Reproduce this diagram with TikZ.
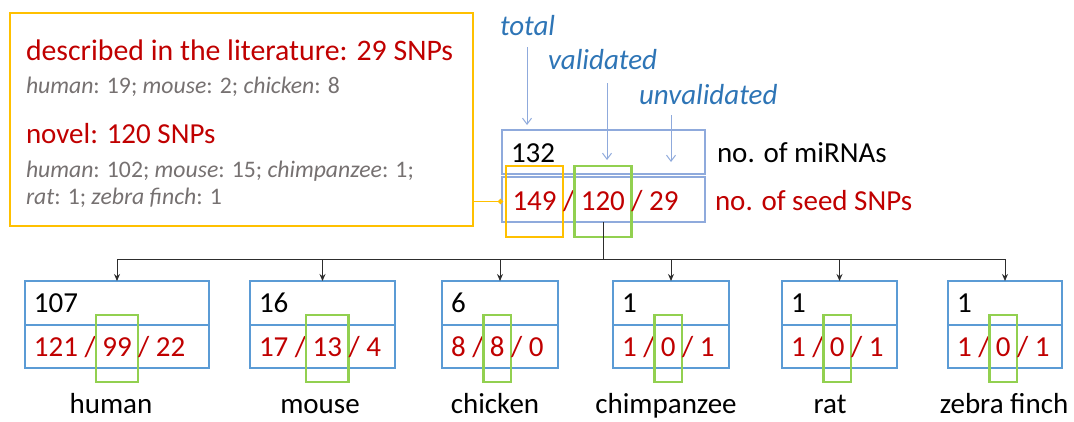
\documentclass[tikz,border=0pt]{standalone}
\usepackage{fontspec}
\setmainfont{Carlito}
\usetikzlibrary{arrows.meta}
\definecolor{cred}{RGB}{192,0,0}
\definecolor{cblue}{RGB}{46,117,182}
\definecolor{lblue}{RGB}{143,170,220}
\definecolor{mblue}{RGB}{91,155,213}
\definecolor{cgreen}{RGB}{146,208,80}
\definecolor{corange}{RGB}{255,192,0}
\definecolor{cgrey}{RGB}{118,113,113}
\definecolor{treec}{RGB}{45,45,45}
\newcommand{\fsMain}{\fontsize{29}{34}\selectfont}
\newcommand{\fsHead}{\fontsize{29.8}{34}\selectfont}
\newcommand{\fsSmall}{\fontsize{23.7}{28}\selectfont}
\tikzset{
  txt/.style={inner sep=0pt, outer sep=0pt, anchor=base west, font=\fsMain},
  redtxt/.style={txt, text=cred},
  bluetxt/.style={txt, text=cblue, font=\fsMain\itshape},
  greytxt/.style={txt, text=cgrey, font=\fsSmall},
  hl/.style={draw, line width=2.5pt, inner xsep=6.5pt, inner ysep=0pt, text height=41pt, text depth=26pt, outer sep=0pt, anchor=base west, font=\fsMain, text=cred},
  tophl/.style={text height=44pt, text depth=27pt},
  greenhl/.style={hl, draw=cgreen},
  orangehl/.style={hl, draw=corange},
  topbox/.style={draw=lblue, line width=1.2pt, minimum width=203pt, anchor=north west, inner sep=0pt, outer sep=0pt},
  childbox/.style={draw=mblue, line width=1.5pt, anchor=north west, inner sep=0pt, outer sep=0pt},
  lblarrow/.style={draw=lblue, line width=1pt, -{Straight Barb[length=6pt,width=9pt]}},
  treeline/.style={draw=treec, line width=1pt},
  treearrow/.style={treeline, -{Stealth[length=7pt,width=6pt]}},
}
\begin{document}
\begin{tikzpicture}[x=1pt,y=-1pt]
\useasboundingbox (0,0) rectangle (1074,421);

% literature box
\node[draw=corange, line width=2pt, minimum width=463pt, minimum height=213pt, anchor=north west, inner sep=0pt, outer sep=0pt] (ybox) at (10,13) {};
\node[redtxt, font=\fsHead] (lit) at (26,60) {described in the literature: 29 SNPs};
\node[greytxt] (litsp) at (26,93) {\textit{human}: 19; \textit{mouse}: 2; \textit{chicken}: 8};
\node[redtxt] (nov) at (26,143) {novel: 120 SNPs};
\node[greytxt] (novsp1) at (26,177) {\textit{human}: 102; \textit{mouse}: 15; \textit{chimpanzee}: 1;};
\node[greytxt] (novsp2) at (26,204) {\textit{rat}: 1; \textit{zebra finch}: 1};

% top box
\node[topbox, minimum height=44pt] (topT) at (502,130) {};
\node[topbox, minimum height=45pt] (topB) at (502,177) {};
\node[txt] (t132) at (511,162) {132};
\node[orangehl, tophl] (t149) at (506,210) {149};
\node[redtxt] (ts1) at (t149.base east) {/};
\node[greenhl, tophl] (t120) at (ts1.base east) {120};
\node[redtxt] (t29) at (t120.base east) {/ 29};
\node[txt] (mirna) at (717,162) {no. of miRNAs};
\node[redtxt] (seed) at (715,210) {no. of seed SNPs};

% labels
\node[bluetxt] (ltot) at (500,35) {total};
\node[bluetxt] (lval) at (548,69) {validated};
\node[bluetxt] (lunv) at (639,104) {unvalidated};
\coordinate (etot) at (527,125);
\coordinate (eval) at (607,160);
\coordinate (eunv) at (671,162);
\draw[lblarrow] ([yshift=-12pt]ltot.south -| etot) -- (etot);
\draw[lblarrow] ([yshift=-14pt]lval.south -| eval) -- (eval);
\draw[lblarrow] ([yshift=-11pt]lunv.south -| eunv) -- (eunv);

% orange connector
\draw[draw=corange, line width=1.3pt, -{Circle[length=5pt]}, shorten >=3pt] (t149.west -| ybox.east) -- (t149.west);

% child boxes
\foreach \nm/\L/\W/\lab/\cx/\n/\a/\b/\c in {
  h/25/184/human/111/107/121/99/22,
  m/250/145/mouse/320/16/17/13/4,
  k/442/116/chicken/495/6/8/8/0,
  p/613/116/chimpanzee/666/1/1/0/1,
  r/782/115/rat/830/1/1/0/1,
  z/948/114/zebra finch/1004/1/1/0/1}{
  \node[childbox, minimum width=\W pt, minimum height=44pt] (\nm T) at (\L,281) {};
  \node[childbox, minimum width=\W pt, minimum height=43pt] (\nm B) at (\L,325) {};
  \draw[mblue, line width=2.6pt] (\nm T.south west) -- (\nm T.south east);
  \node[txt] (\nm1) at (\L+9,312) {\n};
  \node[redtxt] (\nm A) at (\L+9,356) {\a{} /};
  \node[greenhl] (\nm M) at (\nm A.base east) {\b};
  \node[redtxt] (\nm C) at (\nm M.base east) {/ \c};
  \node[txt, anchor=base] (\nm L) at (\cx,413) {\lab};
}

% tree
\coordinate (junc) at (603.5,259);
\draw[treeline] (topB.south) -- (junc);
\foreach \nm in {h,m,k,p,r,z}{
  \draw[treearrow] (junc) -| (\nm T.north);
}
\end{tikzpicture}
\end{document}
